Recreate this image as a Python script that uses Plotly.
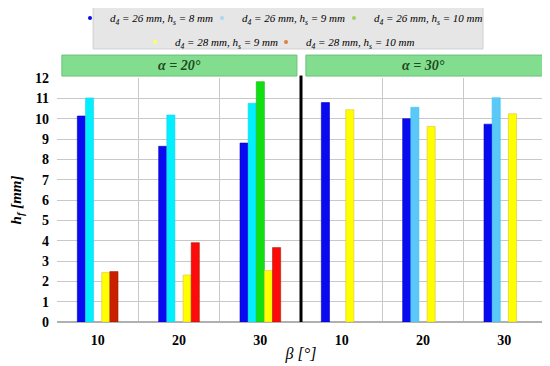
import plotly.graph_objects as go

# categories: beta for alpha=20 then alpha=30
beta_labels = ["10", "20", "30", "10", "20", "30"]
x_pos = [0, 1, 2, 3, 4, 5]

series_names = [
    "<i>d<sub>4</sub> = 26 mm, h<sub>s</sub> = 8 mm</i>",
    "<i>d<sub>4</sub> = 26 mm, h<sub>s</sub> = 9 mm</i>",
    "<i>d<sub>4</sub> = 26 mm, h<sub>s</sub> = 10 mm</i>",
    "<i>d<sub>4</sub> = 28 mm, h<sub>s</sub> = 9 mm</i>",
    "<i>d<sub>4</sub> = 28 mm, h<sub>s</sub> = 10 mm</i>",
]
d26_hs8 = [10.13, 8.64, 8.80, 10.79, 10.00, 9.73]
d26_hs9 = [11.02, 10.18, 10.76, None, 10.56, 11.03]
d26_hs10 = [None, None, 11.82, None, None, None]
d28_hs9 = [2.43, 2.31, 2.53, 10.44, 9.62, 10.24]
d28_hs10 = [2.48, 3.90, 3.66, None, None, None]
values = [d26_hs8, d26_hs9, d26_hs10, d28_hs9, d28_hs10]

colors = [
    ["#0a0af0"] * 6,
    ["#00f0ff"] * 3 + ["#5cc8f8"] * 3,
    ["#10e010"] * 6,
    ["#ffff00"] * 6,
    ["#c82000", "#ff0a0a", "#ff0a0a", "#ff0a0a", "#ff0a0a", "#ff0a0a"],
]
line_colors = ["#0000c0", "#30c8f0", "#20b020", "#e0c040", "#a02000"]
legend_colors = ["#0a0af0", "#a8d8f0", "#a0d060", "#ffff60", "#e08040"]
legend_ids = ["legend", "legend2", "legend3", "legend4", "legend5"]

fig = go.Figure()
for i in range(5):
    fig.add_trace(go.Bar(
        x=x_pos, y=values[i], name=series_names[i],
        marker=dict(color=colors[i], line=dict(color=line_colors[i], width=0.6)),
        showlegend=False,
    ))
for i in range(5):
    fig.add_trace(go.Scatter(
        x=[None], y=[None], mode="markers", name=series_names[i],
        marker=dict(color=legend_colors[i], size=4),
        legend=legend_ids[i],
    ))

serif = "Liberation Serif"
green_fill = "#82de8e"

shapes = [
    # legend background
    dict(type="rect", xref="paper", yref="paper", x0=0.074, x1=0.873, y0=1.119, y1=1.33,
         fillcolor="#e6e6e6", line=dict(color="#cfcfcf", width=1), layer="below"),
    # alpha header boxes
    dict(type="rect", xref="x", yref="paper", x0=-0.44, x1=2.45, y0=1.008, y1=1.094,
         fillcolor=green_fill, line=dict(color="#6cc07a", width=1)),
    dict(type="rect", xref="x", yref="paper", x0=2.56, x1=5.47, y0=1.008, y1=1.094,
         fillcolor=green_fill, line=dict(color="#6cc07a", width=1)),
    # divider
    dict(type="line", xref="x", yref="paper", x0=2.5, x1=2.5, y0=0, y1=1.01,
         line=dict(color="black", width=3)),
]
annotations = [
    dict(text="<b><i>α = 20°</i></b>", xref="x", yref="paper", x=1.0, y=1.051,
         yanchor="middle", xanchor="center",
         showarrow=False, font=dict(family=serif, size=14, color="#1e4a1e")),
    dict(text="<b><i>α = 30°</i></b>", xref="x", yref="paper", x=4.0, y=1.051,
         yanchor="middle", xanchor="center",
         showarrow=False, font=dict(family=serif, size=14, color="#1e4a1e")),
]

W, H = 542, 358
legend_px = [(62, 10), (194, 10), (326, 10), (127, 34), (258, 34)]
legends = {}
for lid, (lx, ly) in zip(legend_ids, legend_px):
    legends[lid] = dict(orientation="h", xref="container", yref="container",
                        x=lx / W, xanchor="left", y=1 - ly / H, yanchor="middle",
                        bgcolor="rgba(0,0,0,0)", font=dict(family=serif, size=11),
                        itemwidth=30)

fig.update_layout(
    width=W, height=H,
    margin=dict(l=49, r=5, t=70, b=44, autoexpand=False),
    paper_bgcolor="white", plot_bgcolor="white",
    barmode="group", bargap=0.5, bargroupgap=0,
    shapes=shapes, annotations=annotations,
    font=dict(family=serif, color="black"),
    xaxis=dict(
        range=[-0.5, 5.5], tickmode="array", tickvals=x_pos,
        ticktext=["<b>%s</b>" % t for t in beta_labels],
        showgrid=False, zeroline=False, showline=False, automargin=False,
        tickfont=dict(family=serif, size=14), ticklabelstandoff=8,
        minor=dict(tickvals=[-0.5, 0.5, 1.5, 3.5, 4.5, 5.5], showgrid=True,
                   gridcolor="#c8c8c8", gridwidth=1),
        title=dict(text="<i>β [°]</i>", font=dict(family=serif, size=16), standoff=0),
    ),
    yaxis=dict(
        range=[0, 12], showgrid=True, gridcolor="#c8c8c8", gridwidth=1,
        zeroline=True, zerolinecolor="#b0b0b0", showline=False, automargin=False,
        tickvals=list(range(13)), ticktext=["<b>%d</b>" % v for v in range(13)],
        tickfont=dict(family=serif, size=14), ticklabelstandoff=7,
        title=dict(text="<b><i>h<sub>f</sub> [mm]</i></b>", font=dict(family=serif, size=15), standoff=12),
    ),
    **legends,
)

fig.write_html("out.html")
